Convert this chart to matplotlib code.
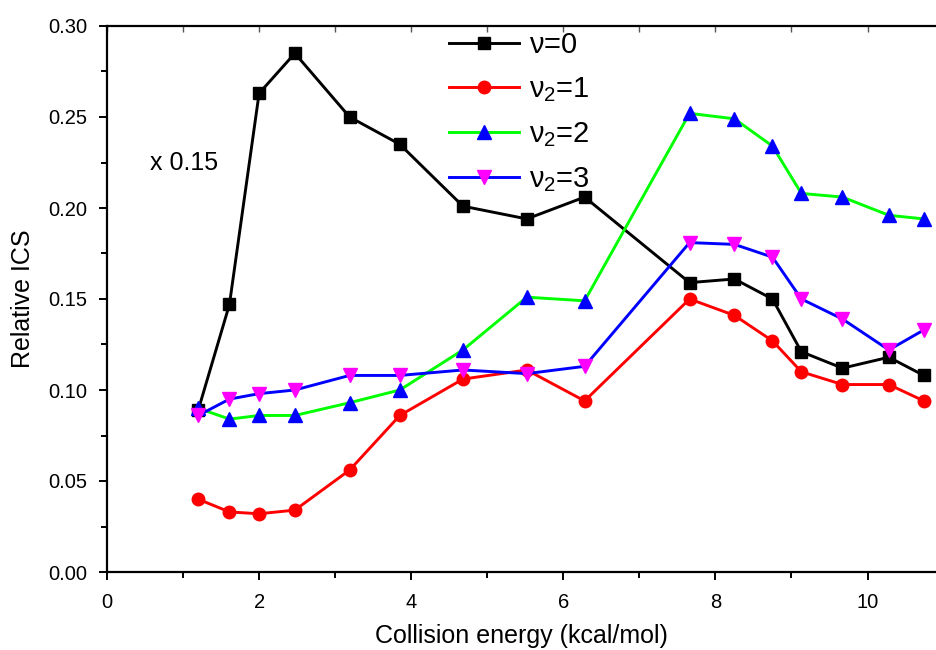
"""Relative ICS vs collision energy for the nu=0 and nu2=1..3 states."""

import matplotlib
matplotlib.use("Agg")
import matplotlib.pyplot as plt
from matplotlib.ticker import FormatStrFormatter, MultipleLocator

plt.rcParams["font.family"] = ["Liberation Sans", "DejaVu Sans"]
plt.rcParams["mathtext.fontset"] = "custom"
plt.rcParams["mathtext.rm"] = "Liberation Sans"
plt.rcParams["mathtext.it"] = "Liberation Sans"

energy = [1.20, 1.61, 2.00, 2.47, 3.19, 3.85, 4.68, 5.52, 6.28, 7.66, 8.25, 8.75, 9.13, 9.67, 10.28, 10.74]
ics_v0 = [0.089, 0.147, 0.263, 0.285, 0.250, 0.235, 0.201, 0.194, 0.206, 0.159, 0.161, 0.150, 0.121, 0.112, 0.118, 0.108]
ics_v2_1 = [0.040, 0.033, 0.032, 0.034, 0.056, 0.086, 0.106, 0.111, 0.094, 0.150, 0.141, 0.127, 0.110, 0.103, 0.103, 0.094]
ics_v2_2 = [0.090, 0.084, 0.086, 0.086, 0.093, 0.100, 0.122, 0.151, 0.149, 0.252, 0.249, 0.234, 0.208, 0.206, 0.196, 0.194]
ics_v2_3 = [0.086, 0.095, 0.098, 0.100, 0.108, 0.108, 0.111, 0.109, 0.113, 0.181, 0.180, 0.173, 0.150, 0.139, 0.122, 0.133]

labels = [r"$\nu$=0", r"$\nu_2$=1", r"$\nu_2$=2", r"$\nu_2$=3"]

fig = plt.figure(figsize=(9.36, 6.5), dpi=100)
ax = fig.add_axes((0.1143, 0.12, 0.8857, 0.84))

series = [
    (ics_v0, "black", "s", "black", 8),
    (ics_v2_1, "#FF0000", "o", "#FF0000", 9),
    (ics_v2_2, "#00FF00", "^", "#0000FF", 10),
    (ics_v2_3, "#0000FF", "v", "#FF00FF", 10),
]
for (values, line_color, marker, marker_color, size), label in zip(series, labels):
    ax.plot(energy, values, color=line_color, linewidth=2.1, marker=marker,
            markersize=size, markerfacecolor=marker_color, markeredgecolor=marker_color,
            label=label)

ax.set_xlim(0, 10.9)
ax.set_ylim(0, 0.30)
ax.xaxis.set_major_locator(MultipleLocator(2))
ax.xaxis.set_minor_locator(MultipleLocator(1))
ax.yaxis.set_major_locator(MultipleLocator(0.05))
ax.yaxis.set_minor_locator(MultipleLocator(0.025))
ax.yaxis.set_major_formatter(FormatStrFormatter("%.2f"))
ax.tick_params(which="major", direction="out", length=6, width=1.4, labelsize=14.5)
ax.tick_params(which="minor", direction="out", length=4, width=1.4)
ax.tick_params(axis="x", which="major", pad=9)
ax.tick_params(axis="y", which="major", pad=8)
ax.spines["right"].set_visible(False)
for side in ("left", "bottom", "top"):
    ax.spines[side].set_linewidth(1.6)

# small inward ticks along the top frame
top = ax.secondary_xaxis("top")
top.xaxis.set_major_locator(MultipleLocator(1))
top.tick_params(direction="in", length=4, width=1.0, color="#555555", labeltop=False)
top.spines["top"].set_visible(False)

ax.set_xlabel("Collision energy (kcal/mol)", fontsize=18, labelpad=9)
ax.set_ylabel("Relative ICS", fontsize=18, labelpad=10)
ax.text(0.57, 0.225, "x 0.15", fontsize=18, ha="left", va="center")

ax.legend(loc="upper left", bbox_to_anchor=(0.398, 1.012), frameon=False, fontsize=21,
          handlelength=2.4, labelspacing=0.55, handletextpad=0.35, borderaxespad=0.0)

fig.savefig("out.png", dpi=100)
